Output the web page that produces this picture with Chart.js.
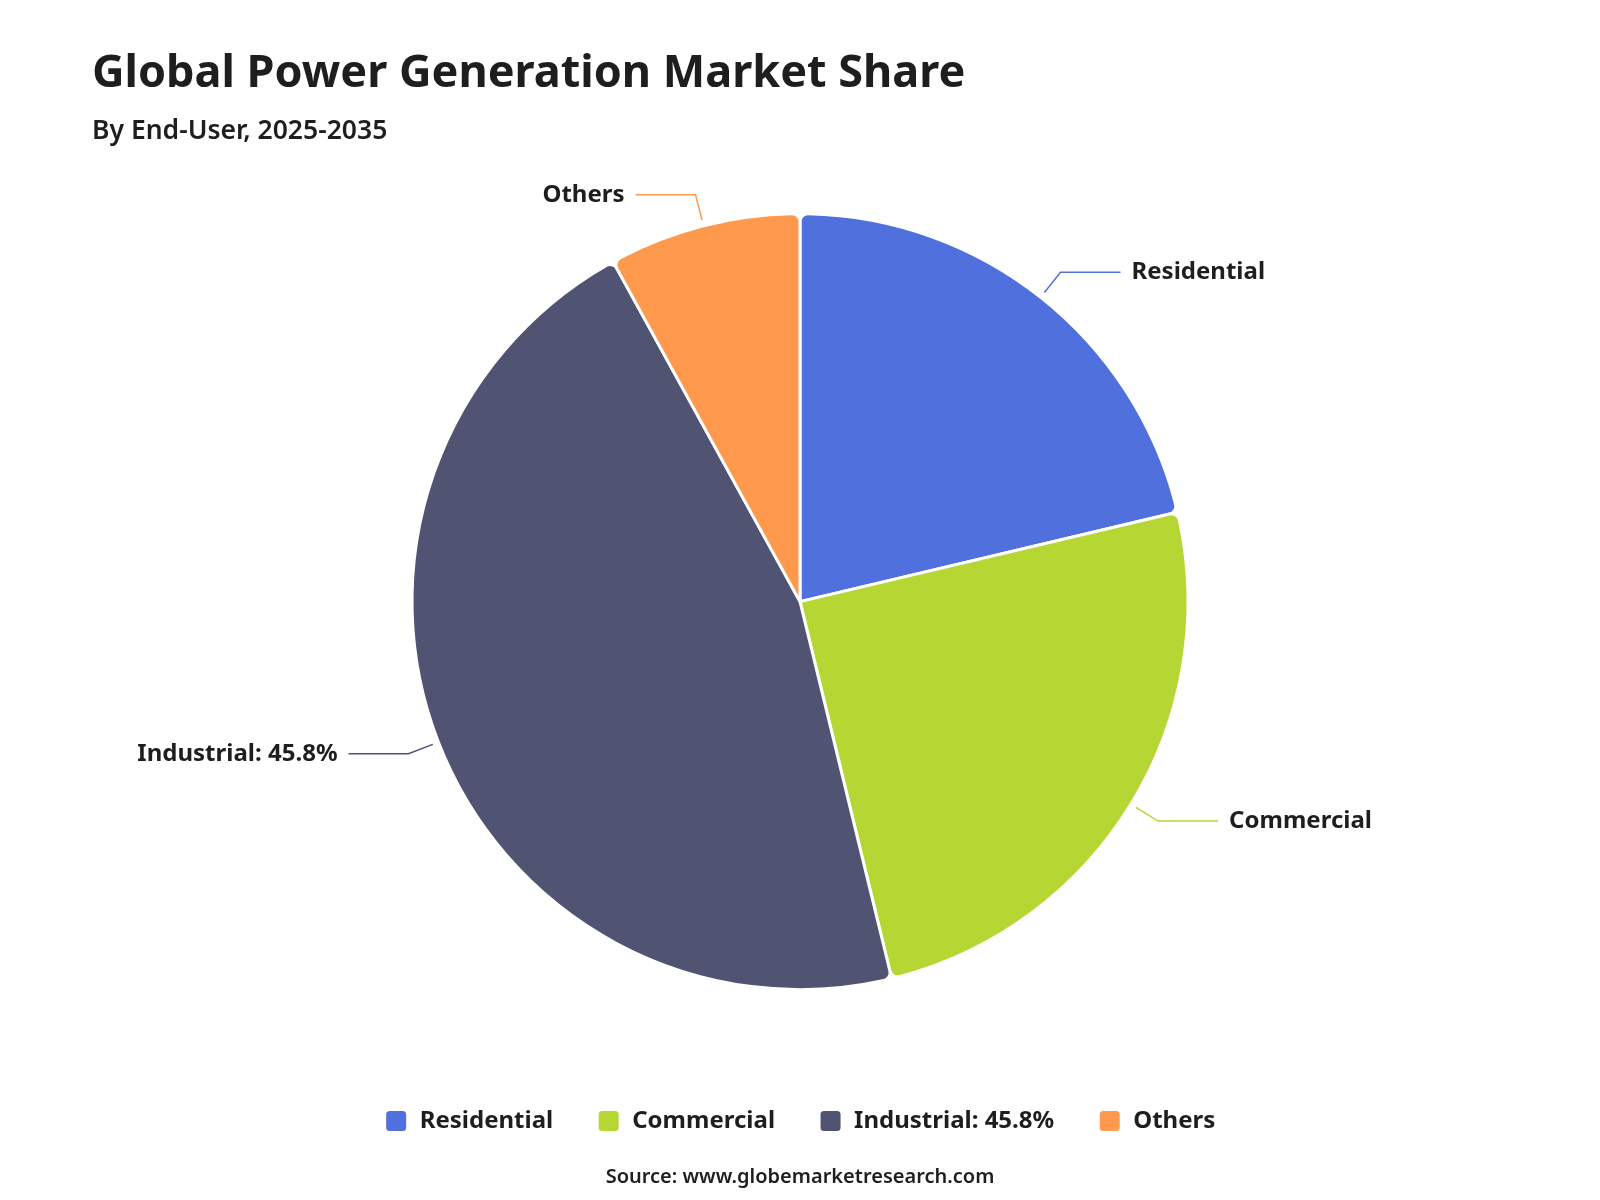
<!DOCTYPE html>
<html>
<head>
<meta charset="utf-8">
<title>Global Power Generation Market Share</title>
<script src="https://cdn.jsdelivr.net/npm/chart.js@4.4.1/dist/chart.umd.min.js"></script>
<style>
  html, body { margin: 0; padding: 0; background: #fff; }
  #wrap { position: relative; width: 1600px; height: 1200px; }
</style>
</head>
<body>
<div id="wrap"><canvas id="chart"></canvas></div>
<script>
// data
const categories = ['Residential', 'Commercial', 'Industrial: 45.8%', 'Others'];
const shares = [21.3, 24.9, 45.8, 8.0];
const colors = ['#5070dd', '#b6d634', '#505372', '#ff994d'];

const FONT = "'Noto Sans', 'Open Sans', sans-serif";
const TEXT = '#1e1e1e';

// leader lines + outside labels
const leaderLabels = {
    id: 'leaderLabels',
    afterDatasetsDraw(chart) {
        const { ctx } = chart;
        const meta = chart.getDatasetMeta(0);
        ctx.save();
        ctx.font = `bold 24px ${FONT}`;
        ctx.textBaseline = 'middle';
        meta.data.forEach((arc, i) => {
            const { x, y, startAngle, endAngle, outerRadius } =
                arc.getProps(['x', 'y', 'startAngle', 'endAngle', 'outerRadius'], true);
            const mid = (startAngle + endAngle) / 2;
            const cos = Math.cos(mid), sin = Math.sin(mid);
            const x1 = x + cos * (outerRadius + 6), y1 = y + sin * (outerRadius + 6);
            const x2 = x + cos * (outerRadius + 32), y2 = y + sin * (outerRadius + 32);
            const right = cos >= 0;
            const x3 = x2 + (right ? 60 : -60);

            ctx.strokeStyle = colors[i];
            ctx.lineWidth = 1.5;
            ctx.beginPath();
            ctx.moveTo(x1, y1);
            ctx.lineTo(x2, y2);
            ctx.lineTo(x3, y2);
            ctx.stroke();

            ctx.fillStyle = TEXT;
            ctx.textAlign = right ? 'left' : 'right';
            ctx.fillText(categories[i], x3 + (right ? 11 : -11), y2);
        });
        ctx.restore();
    }
};

// source line under the legend
const sourceNote = {
    id: 'sourceNote',
    afterDraw(chart) {
        const { ctx } = chart;
        ctx.save();
        ctx.font = `600 20px ${FONT}`;
        ctx.fillStyle = TEXT;
        ctx.textAlign = 'center';
        ctx.textBaseline = 'middle';
        ctx.fillText('Source: www.globemarketresearch.com', chart.width / 2, 1177);
        ctx.restore();
    }
};

new Chart(document.getElementById('chart'), {
    type: 'pie',
    data: {
        labels: categories,
        datasets: [{
            data: shares,
            backgroundColor: colors,
            borderColor: '#ffffff',
            borderWidth: 3,
            borderRadius: 8,
            radius: 388,
        }],
    },
    options: {
        responsive: true,
        maintainAspectRatio: false,
        animation: false,
        events: [],
        layout: { padding: { top: 47, left: 92, right: 92, bottom: 57 } },
        plugins: {
            title: {
                display: true,
                text: 'Global Power Generation Market Share',
                align: 'start',
                color: TEXT,
                font: { family: FONT, size: 45, weight: 'bold' },
                padding: { top: 0, bottom: 15 },
            },
            subtitle: {
                display: true,
                text: 'By End-User, 2025-2035',
                align: 'start',
                color: TEXT,
                font: { family: FONT, size: 26.5, weight: '600' },
                padding: { top: 0, bottom: 0 },
            },
            legend: {
                position: 'bottom',
                title: { display: true, text: '', padding: 0, font: { size: 8 } },
                labels: {
                    color: TEXT,
                    font: { family: FONT, size: 24, weight: 'bold' },
                    boxWidth: 23,
                    boxHeight: 23,
                    useBorderRadius: true,
                    borderRadius: 5,
                    padding: 44,
                },
            },
            tooltip: { enabled: false },
        },
    },
    plugins: [leaderLabels, sourceNote],
});
</script>
</body>
</html>
